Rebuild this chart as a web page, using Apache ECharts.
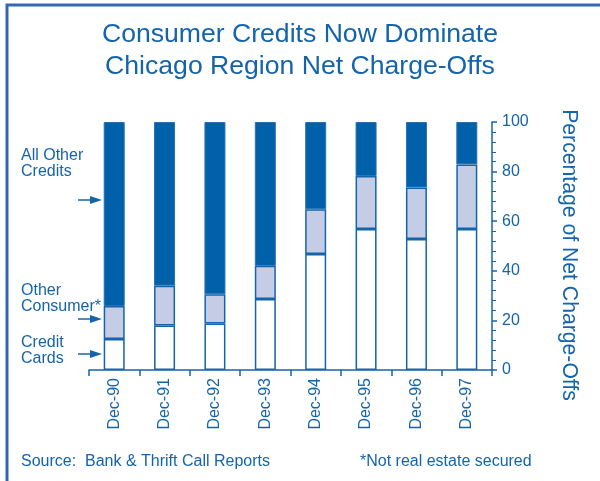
<!DOCTYPE html>
<html>
<head>
<meta charset="utf-8">
<script src="https://cdn.jsdelivr.net/npm/echarts@6/dist/echarts.min.js"></script>
<style>
  html, body { margin: 0; padding: 0; background: #fff; }
  #chart { width: 600px; height: 481px; }
</style>
</head>
<body>
<div id="chart"></div>
<script>
// data
var years = ["Dec-90", "Dec-91", "Dec-92", "Dec-93", "Dec-94", "Dec-95", "Dec-96", "Dec-97"];
var creditCards = [12.5, 17.9, 18.8, 28.6, 46.8, 56.9, 52.8, 56.9];
var otherConsumer = [13.3, 16.1, 11.7, 13.4, 18.0, 21.3, 20.8, 26.0];
var allOther = [74.2, 66.0, 69.5, 58.0, 35.2, 21.8, 26.4, 17.1];
var yTicks = [0, 20, 40, 60, 80, 100];

var blue = "#1464ab";
var dark = "#0060aa";
var light = "#c5cde6";
var font = "Liberation Sans, Arial, sans-serif";

var chart = echarts.init(document.getElementById("chart"));

function arrow(y) {
  return [
    { type: "line", shape: { x1: 78, y1: y, x2: 92, y2: y }, style: { stroke: blue, lineWidth: 1.5 } },
    { type: "polygon", shape: { points: [[90, y - 4], [102, y], [90, y + 4]] }, style: { fill: blue } }
  ];
}

chart.setOption({
  animation: false,
  textStyle: { fontFamily: font },
  title: {
    text: "Consumer Credits Now Dominate\nChicago Region Net Charge-Offs",
    left: "center",
    top: 14,
    textStyle: { color: blue, fontSize: 26.6, fontWeight: "normal", lineHeight: 32, fontFamily: font }
  },
  grid: { left: 89, right: 108, top: 122, bottom: 111 },
  xAxis: [
    {
      type: "category",
      data: years,
      axisLine: { lineStyle: { color: blue, width: 1.5 } },
      axisTick: { show: true, length: 6, lineStyle: { color: blue, width: 1.5 } },
      axisLabel: { rotate: 90, color: blue, fontSize: 16, margin: 8, fontFamily: font }
    },
    {
      type: "category",
      data: years,
      position: "bottom",
      axisLine: { show: false },
      axisTick: { show: true, alignWithLabel: true, inside: true, length: 4, lineStyle: { color: blue, width: 1.5 } },
      axisLabel: { show: false }
    }
  ],
  yAxis: {
    type: "value",
    position: "right",
    min: yTicks[0],
    max: yTicks[yTicks.length - 1],
    interval: 20,
    name: "Percentage of Net Charge-Offs",
    nameLocation: "middle",
    nameRotate: -90,
    nameGap: 66,
    nameTextStyle: { color: blue, fontSize: 21.2, fontFamily: font, padding: [0, 0, 0, 18] },
    axisLine: { show: true, lineStyle: { color: blue, width: 1.5 } },
    axisTick: { show: true, length: 5, lineStyle: { color: blue, width: 1.5 } },
    minorTick: { show: true, splitNumber: 5, length: 4, lineStyle: { color: blue, width: 1 } },
    axisLabel: { color: blue, fontSize: 16, margin: 10, fontFamily: font },
    splitLine: { show: false }
  },
  series: [
    {
      name: "Credit Cards",
      type: "bar",
      stack: "all",
      data: creditCards,
      barWidth: 21,
      itemStyle: { color: "#ffffff", borderColor: blue, borderWidth: 1.5 }
    },
    {
      name: "Other Consumer*",
      type: "bar",
      stack: "all",
      data: otherConsumer,
      barWidth: 21,
      itemStyle: { color: light, borderColor: blue, borderWidth: 1.5 }
    },
    {
      name: "All Other Credits",
      type: "bar",
      stack: "all",
      data: allOther,
      barWidth: 21,
      itemStyle: { color: dark, borderColor: "#2a70b2", borderWidth: 1 }
    }
  ],
  graphic: [
    { type: "rect", shape: { x: 7, y: 5, width: 620, height: 500 }, style: { fill: null, stroke: "#3566b4", lineWidth: 3 }, silent: true },
    { type: "text", left: 21, top: 148, style: { text: "All Other\nCredits", fill: blue, fontSize: 16, lineHeight: 16, fontFamily: font } },
    { type: "text", left: 21, top: 283, style: { text: "Other\nConsumer*", fill: blue, fontSize: 16, lineHeight: 16, fontFamily: font } },
    { type: "text", left: 21, top: 335, style: { text: "Credit\nCards", fill: blue, fontSize: 16, lineHeight: 16, fontFamily: font } },
    { type: "text", left: 21, top: 454, style: { text: "Source:  Bank & Thrift Call Reports", fill: blue, fontSize: 16, fontFamily: font } },
    { type: "text", left: 360, top: 454, style: { text: "*Not real estate secured", fill: blue, fontSize: 16, fontFamily: font } }
  ].concat(arrow(200), arrow(319), arrow(354))
});
</script>
</body>
</html>
